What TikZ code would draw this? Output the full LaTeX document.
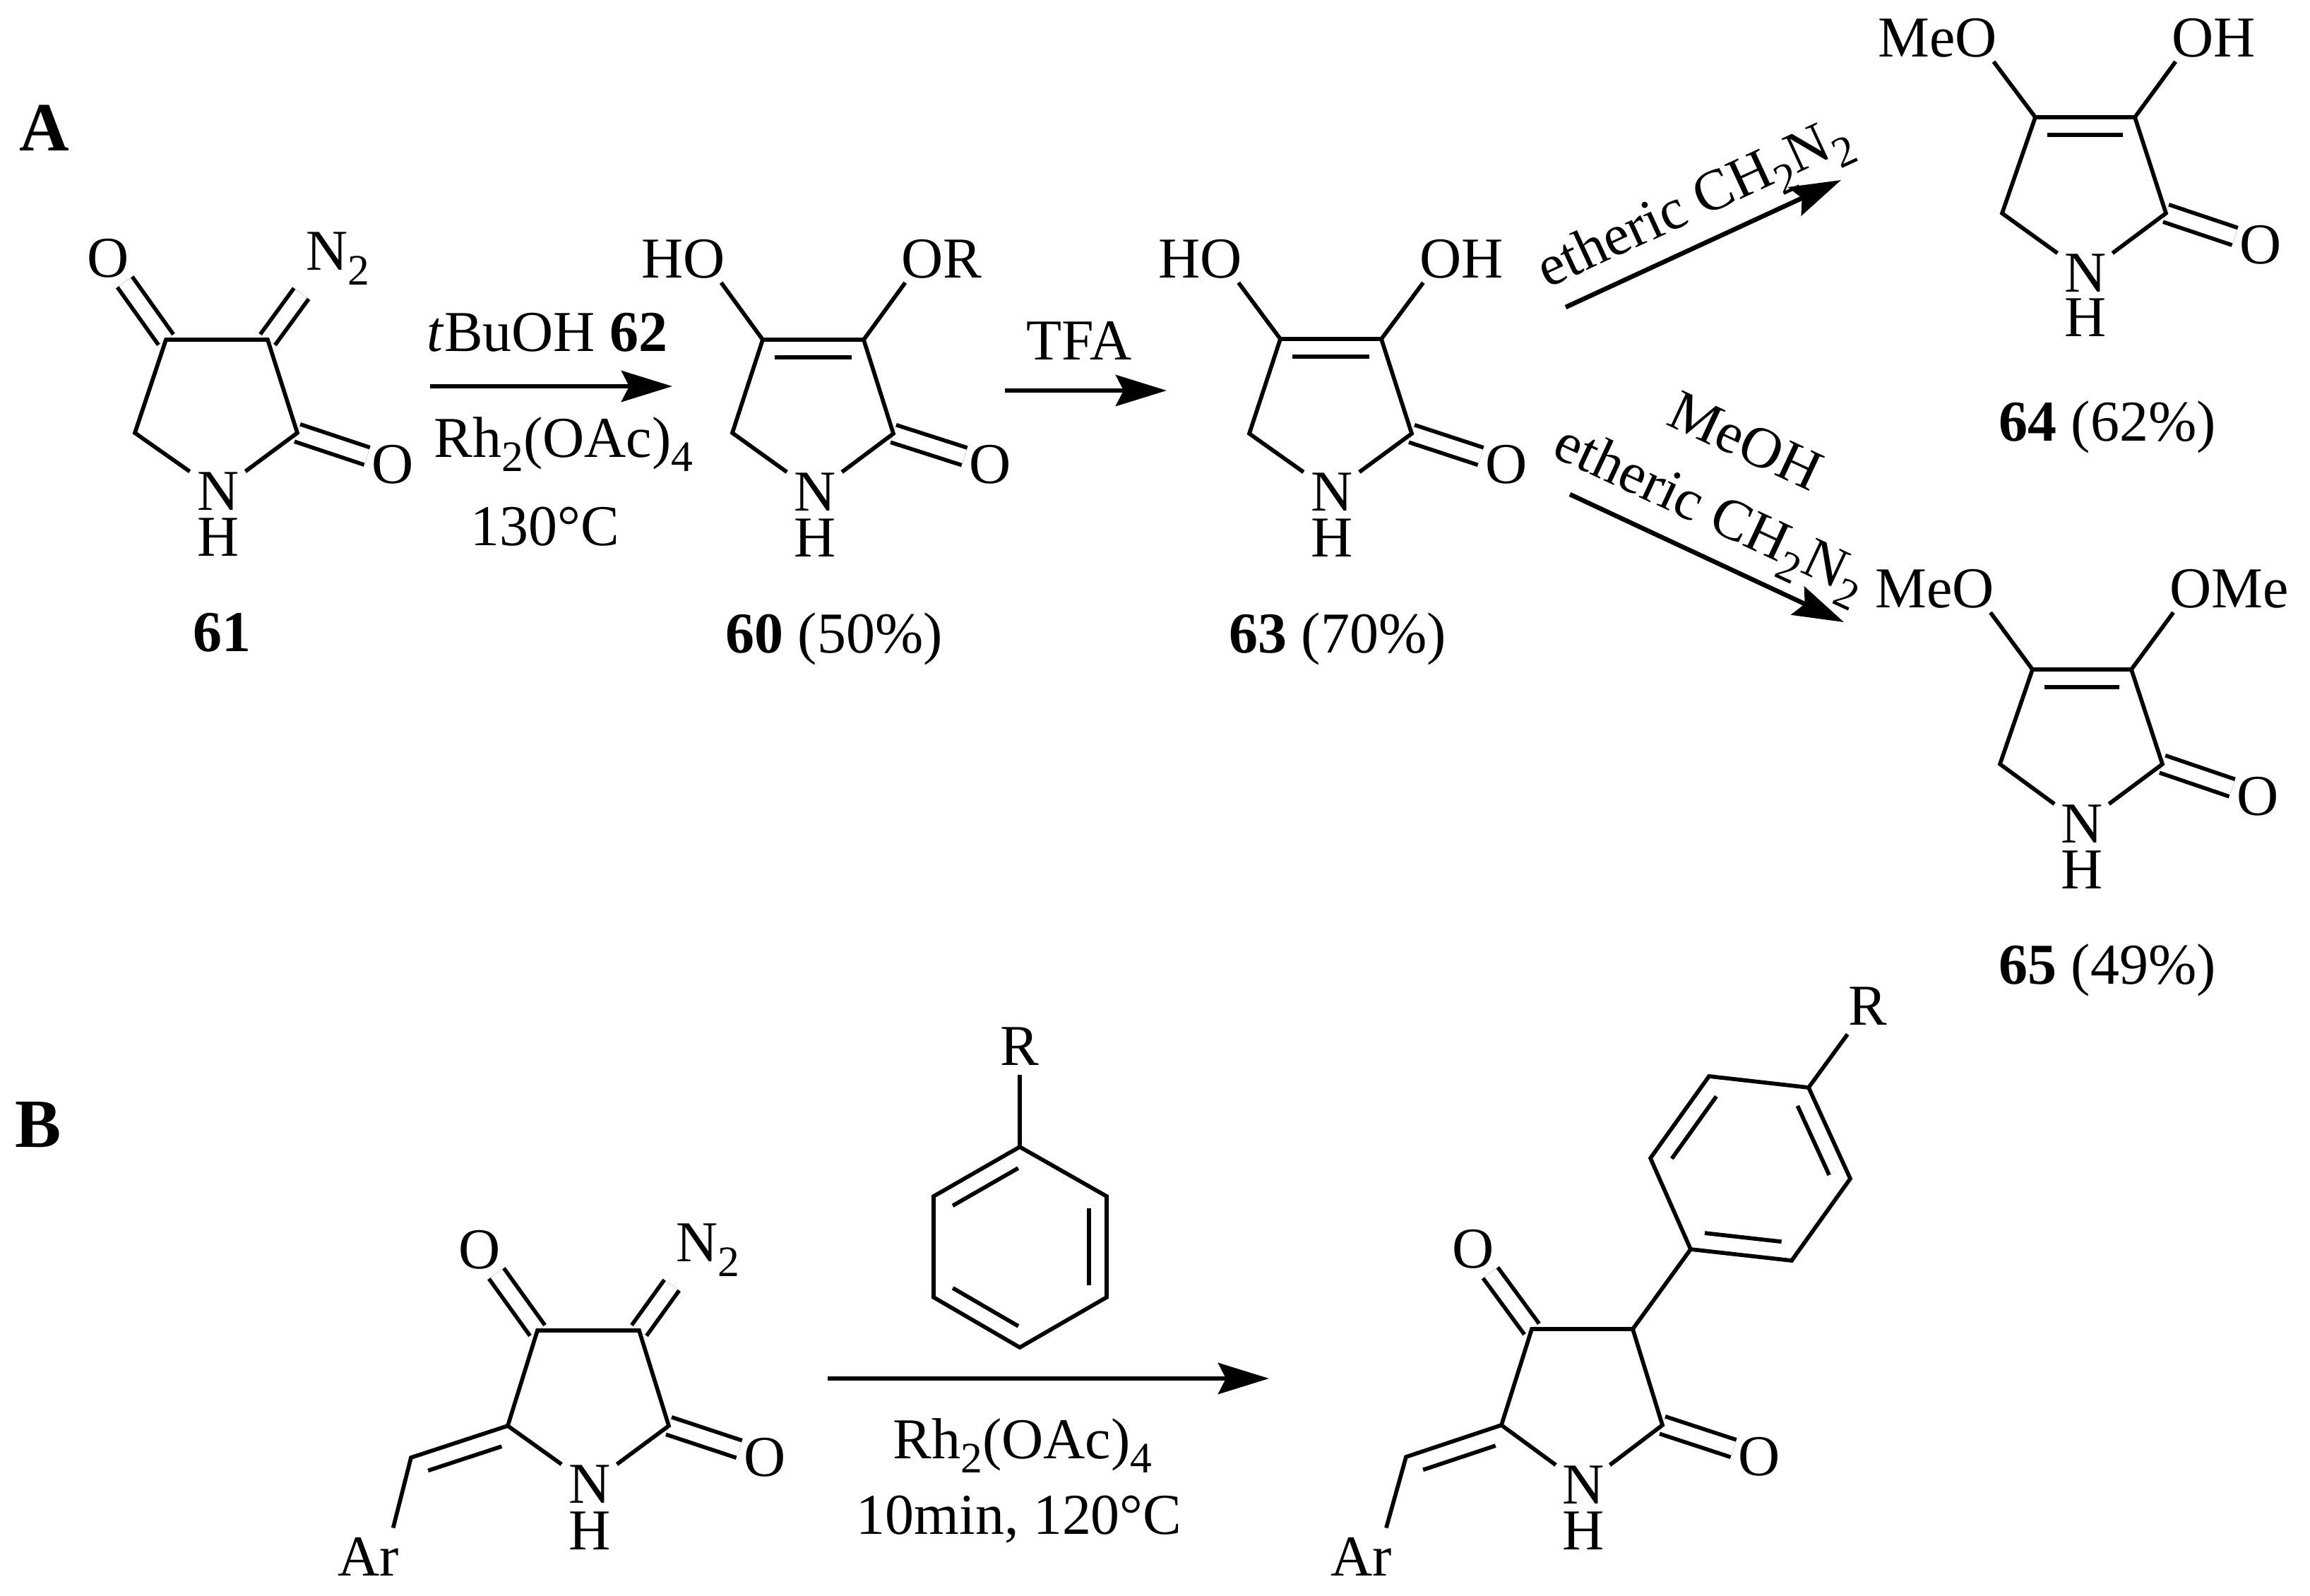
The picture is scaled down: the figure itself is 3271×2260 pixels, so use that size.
\documentclass[tikz,border=0pt]{standalone}
\usepackage{fontspec}
\setmainfont{Liberation Serif}
\usepackage{tikz}
\usetikzlibrary{calc,arrows.meta}
\tikzset{
  bond/.style={line width=.057cm},
  dbl/.style={double,line width=.057cm,double distance=.2cm},
  rxn/.style={line width=.065cm,-{Stealth[length=.72cm,width=.44cm,inset=.11cm]}},
  atom/.style={inner xsep=.06cm,inner ysep=.05cm,font=\fontsize{23.3}{28}\selectfont},
  nh/.style={atom,inner xsep=.1cm,inner ysep=.01cm},
  far/.style={atom,inner ysep=.12cm},
  txt/.style={inner sep=0pt,anchor=base,font=\fontsize{23.3}{28}\selectfont},
  panel/.style={inner sep=0pt,anchor=base,font=\fontsize{27.8}{32}\selectfont\bfseries}
}
\newcommand{\inbond}[2]{\draw[bond] ($(#1)!.12!(#2)!.25cm!90:(#2)$) -- ($(#2)!.12!(#1)!.25cm!-90:(#1)$);}
\newcommand{\sbs}[1]{\raisebox{-.25em}{\fontsize{17.5}{20}\selectfont #1}}
\begin{document}
\begin{tikzpicture}[x=.01cm,y=-.01cm]
\useasboundingbox (0,0) rectangle (3271,2260);
\node [panel] (pa) at (63,213) {A};
\node [panel] (pb) at (54,1624) {B};

\coordinate (a1) at (235,481);
\coordinate (a2) at (379,481);
\coordinate (a3) at (421,613);
\coordinate (a4) at (191,613);
\node [nh] (an) at (309,696) {N};
\node [atom] (ah) at (309,761) {H};
\node [atom] (ao1) at (153,366) {O};
\node [far] (ad) at (463,366) {N\rlap{\sbs{2}}};
\node [atom] (ao2) at (556,658) {O};
\draw [dbl] (a1) -- (ao1);
\draw [dbl] (a2) -- (ad);
\draw [dbl] (a3) -- (ao2);
\draw [bond] (an) -- (a4) -- (a1) -- (a2) -- (a3) -- (an);
\node [txt] (al) at (314,922) {\textbf{61}};

\coordinate (s1) at (609,547);
\coordinate (e1) at (952,547);
\draw [rxn] (s1) -- (e1);
\node [txt] (t1) at (775,497) {\textit{t}BuOH \textbf{62}};
\node [txt] (t2) at (798,647) {Rh\sbs{2}(OAc)\sbs{4}};
\node [txt] (t3) at (772,772) {130°C};

\coordinate (b1) at (1080,481);
\coordinate (b2) at (1223,481);
\coordinate (b3) at (1265,614);
\coordinate (b4) at (1037,613);
\node [nh] (bn) at (1154,697) {N};
\node [atom] (bh) at (1154,762) {H};
\node [atom] (bo1) at (997,367) {\llap{H}O};
\node [atom] (bo2) at (1306,367) {O\rlap{R}};
\node [atom] (bo3) at (1402,658) {O};
\draw [dbl] (b3) -- (bo3);
\draw [bond] (bn) -- (b4) -- (b1) -- (b2) -- (b3) -- (bn);
\draw [bond] (b1) -- (bo1);
\draw [bond] (b2) -- (bo2);
\inbond{b2}{b1}
\node [txt] (bl) at (1181,924) {\textbf{60} (50\%)};

\coordinate (s2) at (1423,553);
\coordinate (e2) at (1652,553);
\draw [rxn] (s2) -- (e2);
\node [txt] (t4) at (1528,509) {TFA};

\coordinate (c1) at (1813,480);
\coordinate (c2) at (1956,480);
\coordinate (c3) at (1999,614);
\coordinate (c4) at (1769,614);
\node [nh] (cn) at (1886,697) {N};
\node [atom] (ch) at (1886,762) {H};
\node [atom] (co1) at (1729,367) {\llap{H}O};
\node [atom] (co2) at (2040,367) {O\rlap{H}};
\node [atom] (co3) at (2133,658) {O};
\draw [dbl] (c3) -- (co3);
\draw [bond] (cn) -- (c4) -- (c1) -- (c2) -- (c3) -- (cn);
\draw [bond] (c1) -- (co1);
\draw [bond] (c2) -- (co2);
\inbond{c2}{c1}
\node [txt] (cl) at (1894,924) {\textbf{63} (70\%)};

\coordinate (s3) at (2217,435);
\coordinate (e3) at (2607,255);
\draw [rxn] (s3) -- (e3);
\node [atom,rotate=24.8] (t5) at (2401,292) {etheric CH\sbs{2}N\sbs{2}};
\coordinate (s4) at (2223,700);
\coordinate (e4) at (2611,881);
\draw [rxn] (s4) -- (e4);
\node [atom,rotate=-25] (t6) at (2472,624) {MeOH};
\node [atom,rotate=-25] (t7) at (2420,730) {etheric CH\sbs{2}N\sbs{2}};

\coordinate (d1) at (2882,166);
\coordinate (d2) at (3023,166);
\coordinate (d3) at (3067,302);
\coordinate (d4) at (2835,302);
\node [nh] (dn) at (2953,387) {N};
\node [atom] (dh) at (2953,450) {H};
\node [atom] (do1) at (2798,54) {\llap{Me}O};
\node [atom] (do2) at (3105,54) {O\rlap{H}};
\node [atom] (do3) at (3201,347) {O};
\draw [dbl] (d3) -- (do3);
\draw [bond] (dn) -- (d4) -- (d1) -- (d2) -- (d3) -- (dn);
\draw [bond] (d1) -- (do1);
\draw [bond] (d2) -- (do2);
\inbond{d2}{d1}
\node [txt] (dl) at (2984,624) {\textbf{64} (62\%)};

\coordinate (e1x) at (2878,948);
\coordinate (e2x) at (3018,948);
\coordinate (e3x) at (3062,1082);
\coordinate (e4x) at (2832,1082);
\node [nh] (en) at (2948,1167) {N};
\node [atom] (eh) at (2948,1232) {H};
\node [atom] (eo1) at (2794,834) {\llap{Me}O};
\node [atom] (eo2) at (3102,834) {O\rlap{Me}};
\node [atom] (eo3) at (3197,1128) {O};
\draw [dbl] (e3x) -- (eo3);
\draw [bond] (en) -- (e4x) -- (e1x) -- (e2x) -- (e3x) -- (en);
\draw [bond] (e1x) -- (eo1);
\draw [bond] (e2x) -- (eo2);
\inbond{e2x}{e1x}
\node [txt] (el) at (2984,1393) {\textbf{65} (49\%)};

\coordinate (f1) at (761,1884);
\coordinate (f2) at (905,1884);
\coordinate (f3) at (947,2019);
\coordinate (f4) at (719,2019);
\coordinate (fv) at (582,2064);
\node [nh] (fn) at (835,2102) {N};
\node [atom] (fh) at (835,2168) {H};
\node [atom] (fo1) at (679,1770) {O};
\node [far] (fd) at (987,1770) {N\rlap{\sbs{2}}};
\node [atom] (fo2) at (1083,2064) {O};
\node [atom] (far1) at (522,2204) {Ar};
\draw [dbl] (f1) -- (fo1);
\draw [dbl] (f2) -- (fd);
\draw [dbl] (f3) -- (fo2);
\draw [bond] (fn) -- (f4) -- (f1) -- (f2) -- (f3) -- (fn);
\draw [bond,shorten >=.08cm] (f4) -- (fv) -- (far1.45);
\inbond{f4}{fv}

\coordinate (r1) at (1444,1624);
\coordinate (r2) at (1322,1694);
\coordinate (r3) at (1322,1837);
\coordinate (r4) at (1444,1908);
\coordinate (r5) at (1567,1837);
\coordinate (r6) at (1567,1694);
\node [far] (rr) at (1444,1482) {R};
\draw [bond] (r1) -- (r2) -- (r3) -- (r4) -- (r5) -- (r6) -- cycle;
\draw [bond] (r1) -- (rr);
\inbond{r1}{r2}
\inbond{r3}{r4}
\inbond{r5}{r6}

\coordinate (s5) at (1172,1952);
\coordinate (e5) at (1797,1952);
\draw [rxn] (s5) -- (e5);
\node [txt] (t8) at (1448,2065) {Rh\sbs{2}(OAc)\sbs{4}};
\node [txt] (t9) at (1443,2172) {10min, 120°C};

\coordinate (g1) at (2169,1882);
\coordinate (g2) at (2312,1882);
\coordinate (g3) at (2354,2018);
\coordinate (g4) at (2126,2018);
\coordinate (gv) at (1991,2063);
\node [nh] (gn) at (2242,2103) {N};
\node [atom] (gh) at (2242,2168) {H};
\node [atom] (go1) at (2086,1769) {O};
\node [atom] (go2) at (2491,2063) {O};
\node [atom] (gar) at (1928,2204) {Ar};
\draw [dbl] (g1) -- (go1);
\draw [dbl] (g3) -- (go2);
\draw [bond] (gn) -- (g4) -- (g1) -- (g2) -- (g3) -- (gn);
\draw [bond,shorten >=.08cm] (g4) -- (gv) -- (gar.45);
\inbond{g4}{gv}

\coordinate (k1) at (2394,1769);
\coordinate (k2) at (2537,1785);
\coordinate (k3) at (2620,1669);
\coordinate (k4) at (2561,1540);
\coordinate (k5) at (2420,1524);
\coordinate (k6) at (2337,1640);
\node [far] (kr) at (2645,1425) {R};
\draw [bond] (k1) -- (k2) -- (k3) -- (k4) -- (k5) -- (k6) -- cycle;
\draw [bond] (g2) -- (k1);
\draw [bond] (k4) -- (kr);
\inbond{k1}{k2}
\inbond{k3}{k4}
\inbond{k5}{k6}
\end{tikzpicture}
\end{document}
